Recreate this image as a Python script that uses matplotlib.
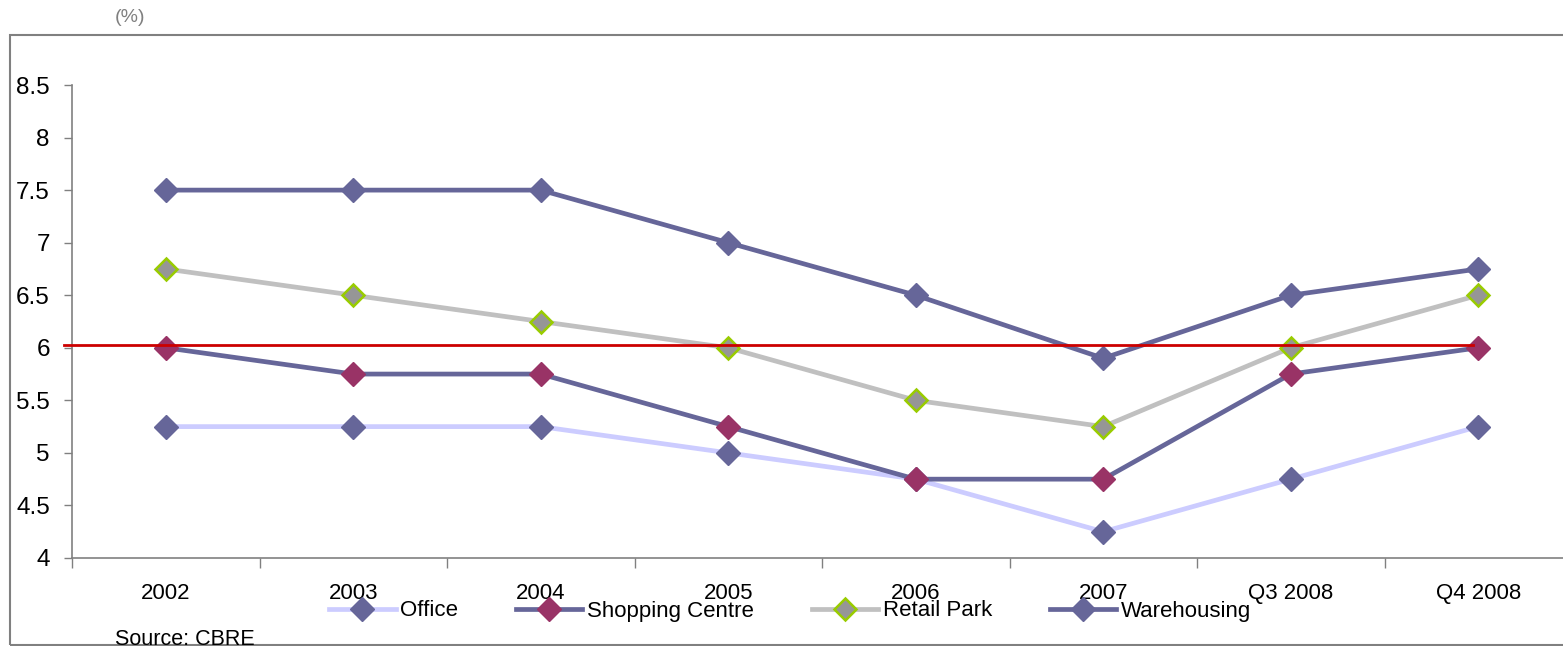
import numpy as np
import matplotlib.pyplot as plt
from matplotlib.patches import Rectangle

plt.rcParams['font.family'] = ['Liberation Sans', 'DejaVu Sans']

# Data
periods = ['2002', '2003', '2004', '2005', '2006', '2007', 'Q3 2008', 'Q4 2008']
office = [5.25, 5.25, 5.25, 5.0, 4.75, 4.25, 4.75, 5.25]
shopping = [6.0, 5.75, 5.75, 5.25, 4.75, 4.75, 5.75, 6.0]
retail = [6.75, 6.5, 6.25, 6.0, 5.5, 5.25, 6.0, 6.5]
warehousing = [7.5, 7.5, 7.5, 7.0, 6.5, 5.9, 6.5, 6.75]
benchmark = 6.03
yticks = [4, 4.5, 5, 5.5, 6, 6.5, 7, 7.5, 8, 8.5]

W, H = 1563, 646
fig = plt.figure(figsize=(W / 100, H / 100), dpi=100)
ax = fig.add_axes([72 / W, 1 - 558 / H, 1500 / W, 473 / H])

x = np.arange(len(periods))
ms = 12
lw = 3.4
ax.plot(x, office, color='#CCCCFF', lw=lw, marker='D', ms=ms,
        mfc='#666699', mec='#666699', label='Office', zorder=3)
ax.plot(x, shopping, color='#666699', lw=lw, marker='D', ms=ms,
        mfc='#993366', mec='#993366', label='Shopping Centre', zorder=4)
ax.plot(x, retail, color='#C0C0C0', lw=lw, marker='D', ms=ms - 1,
        mfc='#969696', mec='#99CC00', mew=1.8, label='Retail Park', zorder=5)
ax.plot(x, warehousing, color='#666699', lw=lw, marker='D', ms=ms,
        mfc='#666699', mec='#666699', label='Warehousing', zorder=6)

# red reference line
ax.plot([-0.543, 6.97], [benchmark, benchmark], color='#CC0000', lw=2,
        clip_on=False, zorder=7)

ax.set_xlim(-0.5, len(periods) - 0.5)
ax.set_ylim(4, 8.5)
ax.set_yticks(yticks)
ax.set_yticklabels([f'{v:g}' for v in yticks])
ax.set_xticks(x)
ax.set_xticklabels(periods)
ax.set_xticks(np.arange(len(periods) + 1) - 0.5, minor=True)

for s in ['top', 'right']:
    ax.spines[s].set_visible(False)
for s in ['left', 'bottom']:
    ax.spines[s].set_color('#808080')
    ax.spines[s].set_linewidth(1.2)

ax.tick_params(axis='y', direction='out', length=6, width=1, color='#808080',
               labelsize=17.5, pad=10)
ax.tick_params(axis='x', which='major', length=0, labelsize=16, pad=18)
ax.tick_params(axis='x', which='minor', direction='out', length=7, width=1,
               color='#808080')

fig.legend(loc='center', bbox_to_anchor=(790 / W, 1 - 611 / H), ncol=4,
           frameon=False, fontsize=16, handlelength=3.0, handletextpad=0.2,
           columnspacing=2.6, borderaxespad=0)

# outer frame
fig.patches.append(Rectangle((10 / W, 1 - 645 / H), 1.1, 610 / H,
                             transform=fig.transFigure, fill=False,
                             edgecolor='#808080', lw=1.5))

fig.text(115 / W, 1 - 18 / H, '(%)', color='#808080', fontsize=14,
         va='center', ha='left')
fig.text(115 / W, 1 - 629 / H, 'Source: CBRE', fontsize=15.5,
         va='top', ha='left')

fig.savefig('out.png', dpi=100)
